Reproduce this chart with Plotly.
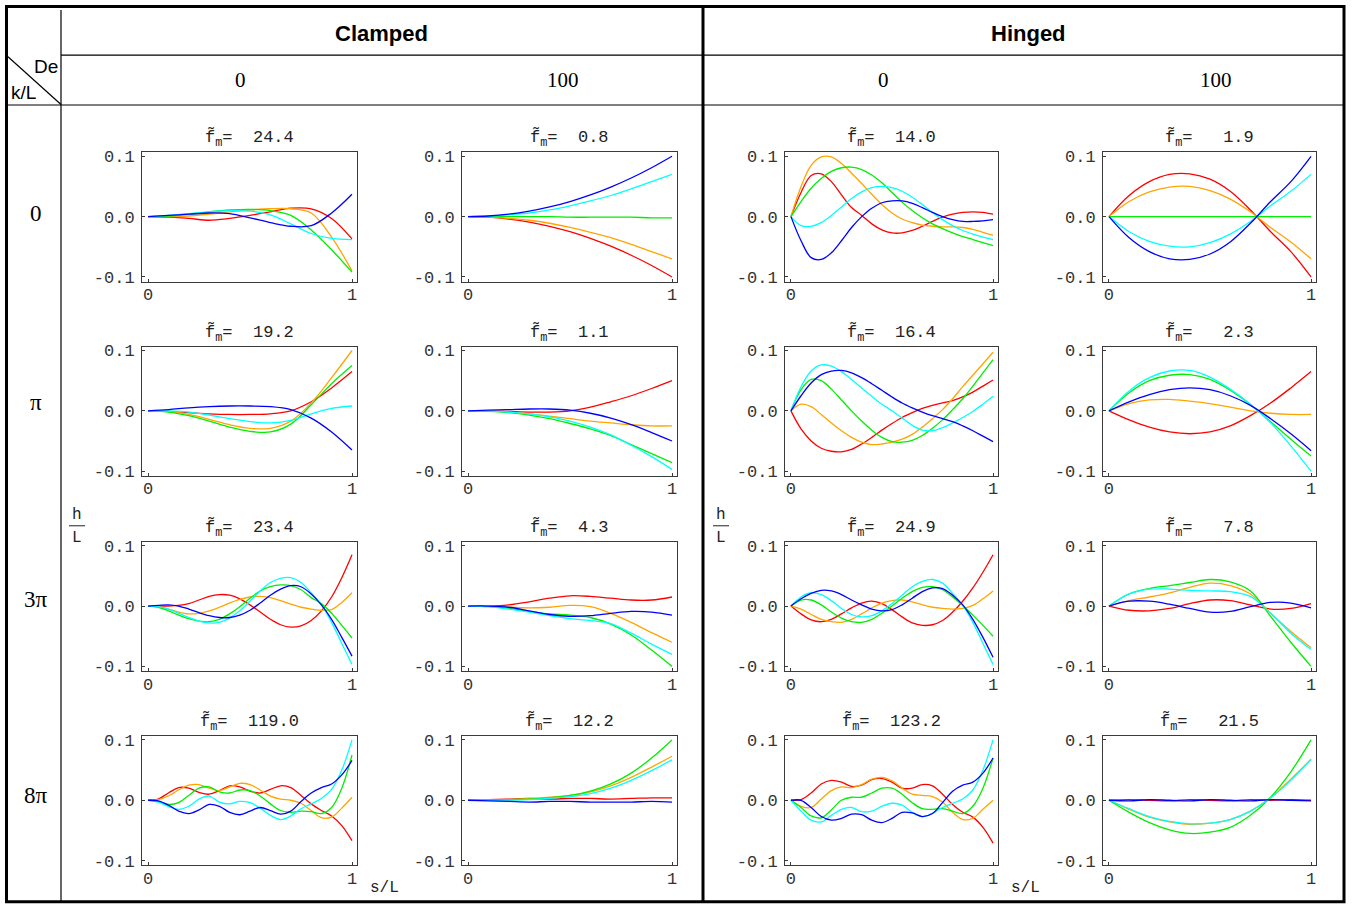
import plotly.graph_objects as go

W, H = 1359, 909

# ---------------- sample positions (s/L) ----------------
s11 = [0.0, 0.1, 0.2, 0.3, 0.4, 0.5, 0.6, 0.7, 0.8, 0.9, 1.0]
s21 = [0.0, 0.05, 0.1, 0.15, 0.2, 0.25, 0.3, 0.35, 0.4, 0.45, 0.5,
       0.55, 0.6, 0.65, 0.7, 0.75, 0.8, 0.85, 0.9, 0.95, 1.0]

# ---------------- labels ----------------
group_headers = ["Clamped", "Hinged"]
de_headers = ["0", "100", "0", "100"]
kl_labels = ["0", "π", "3π", "8π"]
fm_clamped_de0 = ["24.4", "19.2", "23.4", "119.0"]
fm_clamped_de100 = ["0.8", "1.1", "4.3", "12.2"]
fm_hinged_de0 = ["14.0", "16.4", "24.9", "123.2"]
fm_hinged_de100 = ["1.9", "2.3", "7.8", "21.5"]
y_tick_vals = [-0.1, 0.0, 0.1]
y_tick_text = ["-0.1", "0.0", "0.1"]
x_tick_vals = [0, 1]
x_tick_text = ["0", "1"]

# ---------------- row 1 (k/L = 0) ----------------
r1c1_red = [0, -0.001, -0.003, -0.006, -0.003, 0.002, 0.008, 0.014, 0.013, -0.003, -0.037]
r1c1_orange = [0, 0.0, 0.001, 0.004, 0.008, 0.011, 0.013, 0.013, 0.006, -0.034, -0.09]
r1c1_green = [0, 0.001, 0.004, 0.008, 0.011, 0.012, 0.01, 0.002, -0.022, -0.055, -0.092]
r1c1_cyan = [0, 0.002, 0.005, 0.008, 0.01, 0.009, 0.003, -0.012, -0.028, -0.036, -0.038]
r1c1_blue = [0, 0.002, 0.004, 0.006, 0.005, -0.002, -0.01, -0.016, -0.015, 0.006, 0.037]

r1c2_red = [0, -0.001, -0.004, -0.009, -0.016, -0.025, -0.036, -0.049, -0.064, -0.081, -0.1]
r1c2_orange = [0, -0.001, -0.003, -0.006, -0.011, -0.018, -0.026, -0.035, -0.046, -0.058, -0.07]
r1c2_green = [0, 0, 0, 0, 0, -0.001, -0.001, -0.001, -0.001, -0.002, -0.002]
r1c2_cyan = [0, 0.001, 0.003, 0.006, 0.011, 0.018, 0.026, 0.035, 0.046, 0.058, 0.07]
r1c2_blue = [0, 0.001, 0.004, 0.009, 0.016, 0.025, 0.036, 0.049, 0.064, 0.081, 0.1]

r1c3_red = [0, 0.04, 0.068, 0.071, 0.058, 0.036, 0.015, 0.002, -0.012, -0.022, -0.027,
            -0.027, -0.023, -0.016, -0.008, -0.001, 0.004, 0.007, 0.008, 0.007, 0.004]
r1c3_orange = [0, 0.05, 0.085, 0.099, 0.099, 0.088, 0.072, 0.055, 0.037, 0.02, 0.006,
               -0.004, -0.01, -0.014, -0.016, -0.017, -0.017, -0.018, -0.021, -0.026, -0.031]
r1c3_green = [0, 0.025, 0.047, 0.063, 0.075, 0.081, 0.082, 0.078, 0.069, 0.056, 0.04,
              0.024, 0.01, -0.002, -0.012, -0.02, -0.027, -0.033, -0.038, -0.043, -0.048]
r1c3_cyan = [0, -0.015, -0.016, -0.01, 0.002, 0.016, 0.03, 0.041, 0.048, 0.05, 0.048,
             0.042, 0.032, 0.02, 0.007, -0.005, -0.015, -0.023, -0.029, -0.034, -0.038]
r1c3_blue = [0, -0.04, -0.068, -0.071, -0.06, -0.04, -0.018, 0.0, 0.014, 0.023, 0.026,
             0.026, 0.022, 0.015, 0.007, 0.0, -0.005, -0.008, -0.008, -0.007, -0.005]

r1c4_red = [0, 0.035, 0.058, 0.07, 0.071, 0.062, 0.042, 0.011, -0.025, -0.058, -0.1]
r1c4_orange = [0, 0.025, 0.041, 0.049, 0.05, 0.043, 0.029, 0.008, -0.018, -0.042, -0.07]
r1c4_green = [0, 0, 0, 0, 0, 0, 0, 0, 0, 0, 0]
r1c4_cyan = [0, -0.025, -0.041, -0.049, -0.05, -0.043, -0.029, -0.008, 0.018, 0.042, 0.07]
r1c4_blue = [0, -0.035, -0.058, -0.07, -0.071, -0.062, -0.042, -0.011, 0.025, 0.058, 0.1]

# ---------------- row 2 (k/L = pi) ----------------
r2c1_red = [0, -0.001, -0.003, -0.005, -0.006, -0.006, -0.005, 0.0, 0.015, 0.038, 0.065]
r2c1_orange = [0, -0.001, -0.006, -0.014, -0.023, -0.029, -0.029, -0.017, 0.013, 0.055, 0.1]
r2c1_green = [0, -0.002, -0.008, -0.017, -0.027, -0.034, -0.035, -0.022, 0.01, 0.045, 0.075]
r2c1_cyan = [0, 0.0, -0.002, -0.007, -0.013, -0.018, -0.02, -0.016, -0.005, 0.004, 0.008]
r2c1_blue = [0, 0.002, 0.005, 0.007, 0.008, 0.008, 0.007, 0.002, -0.012, -0.035, -0.065]

r2c2_red = [0, 0, -0.001, -0.002, -0.002, 0.0, 0.006, 0.015, 0.025, 0.037, 0.05]
r2c2_orange = [0, 0, -0.002, -0.005, -0.009, -0.013, -0.017, -0.02, -0.023, -0.025, -0.025]
r2c2_green = [0, -0.001, -0.003, -0.007, -0.013, -0.021, -0.03, -0.041, -0.056, -0.071, -0.086]
r2c2_cyan = [0, 0, -0.002, -0.005, -0.01, -0.017, -0.027, -0.04, -0.057, -0.076, -0.097]
r2c2_blue = [0, 0.001, 0.002, 0.003, 0.003, 0.001, -0.004, -0.012, -0.023, -0.036, -0.05]

r2c3_red = [0, -0.03, -0.05, -0.062, -0.067, -0.068, -0.064, -0.055, -0.044, -0.032, -0.021,
            -0.011, -0.003, 0.004, 0.009, 0.013, 0.017, 0.023, 0.031, 0.041, 0.051]
r2c3_orange = [0, 0.011, 0.007, -0.006, -0.02, -0.033, -0.044, -0.052, -0.056, -0.055, -0.052,
               -0.047, -0.039, -0.027, -0.013, 0.002, 0.02, 0.04, 0.059, 0.078, 0.097]
r2c3_green = [0, 0.035, 0.052, 0.05, 0.036, 0.018, 0.0, -0.017, -0.032, -0.044, -0.051,
              -0.052, -0.049, -0.041, -0.029, -0.015, 0.002, 0.02, 0.041, 0.063, 0.085]
r2c3_cyan = [0, 0.04, 0.066, 0.076, 0.074, 0.065, 0.052, 0.038, 0.024, 0.011, 0.0,
             -0.012, -0.024, -0.032, -0.033, -0.028, -0.02, -0.011, -0.001, 0.011, 0.024]
r2c3_blue = [0, 0.025, 0.046, 0.06, 0.066, 0.067, 0.063, 0.055, 0.045, 0.034, 0.023,
             0.013, 0.005, -0.002, -0.008, -0.013, -0.018, -0.025, -0.033, -0.042, -0.051]

r2c4_red = [0, -0.015, -0.027, -0.035, -0.038, -0.035, -0.025, -0.008, 0.013, 0.038, 0.065]
r2c4_orange = [0, 0.012, 0.018, 0.019, 0.016, 0.012, 0.006, 0.0, -0.004, -0.006, -0.006]
r2c4_green = [0, 0.03, 0.05, 0.059, 0.06, 0.052, 0.034, 0.01, -0.018, -0.047, -0.075]
r2c4_cyan = [0, 0.033, 0.055, 0.066, 0.067, 0.056, 0.036, 0.011, -0.02, -0.058, -0.1]
r2c4_blue = [0, 0.015, 0.027, 0.035, 0.038, 0.035, 0.025, 0.009, -0.013, -0.038, -0.066]

# ---------------- row 3 (k/L = 3pi) ----------------
r3c1_red = [0, 0, 0, 0.001, 0.004, 0.01, 0.016, 0.019, 0.018, 0.012, 0.002,
            -0.01, -0.022, -0.031, -0.035, -0.033, -0.024, -0.008, 0.015, 0.047, 0.085]
r3c1_orange = [0, -0.001, -0.005, -0.01, -0.013, -0.012, -0.008, -0.002, 0.005, 0.011, 0.015,
               0.016, 0.014, 0.009, 0.003, -0.002, -0.005, -0.007, -0.006, 0.006, 0.022]
r3c1_green = [0, -0.002, -0.008, -0.015, -0.021, -0.025, -0.026, -0.022, -0.013, -0.001, 0.013,
              0.025, 0.032, 0.035, 0.034, 0.027, 0.014, 0.004, -0.012, -0.032, -0.053]
r3c1_cyan = [0, -0.001, -0.005, -0.012, -0.019, -0.025, -0.028, -0.027, -0.02, -0.008, 0.008,
             0.025, 0.039, 0.046, 0.047, 0.039, 0.022, 0.002, -0.027, -0.062, -0.097]
r3c1_blue = [0, 0.001, 0.002, 0.0, -0.005, -0.011, -0.016, -0.019, -0.019, -0.015, -0.007,
             0.005, 0.018, 0.028, 0.034, 0.032, 0.02, 0.002, -0.022, -0.052, -0.083]

r3c2_red = [0, 0.0, 0.002, 0.007, 0.013, 0.017, 0.016, 0.013, 0.01, 0.01, 0.015]
r3c2_orange = [0, 0, -0.002, -0.003, -0.002, 0.001, -0.001, -0.012, -0.027, -0.044, -0.06]
r3c2_green = [0, -0.001, -0.004, -0.009, -0.013, -0.015, -0.019, -0.03, -0.048, -0.073, -0.1]
r3c2_cyan = [0, -0.001, -0.005, -0.01, -0.016, -0.021, -0.024, -0.029, -0.045, -0.063, -0.08]
r3c2_blue = [0, 0, -0.002, -0.008, -0.014, -0.017, -0.016, -0.012, -0.009, -0.01, -0.015]

r3c3_red = [0, -0.013, -0.023, -0.026, -0.022, -0.013, -0.003, 0.005, 0.008, 0.004, -0.006,
            -0.018, -0.028, -0.032, -0.031, -0.024, -0.01, 0.008, 0.03, 0.056, 0.085]
r3c3_orange = [0, -0.005, -0.014, -0.022, -0.026, -0.027, -0.022, -0.013, -0.003, 0.005, 0.009,
               0.01, 0.007, 0.002, -0.002, -0.004, -0.005, -0.004, 0.001, 0.012, 0.025]
r3c3_green = [0, 0.01, 0.01, 0.002, -0.01, -0.02, -0.026, -0.027, -0.022, -0.012, 0.0,
              0.013, 0.024, 0.031, 0.032, 0.027, 0.015, 0.001, -0.015, -0.032, -0.05]
r3c3_cyan = [0, 0.015, 0.022, 0.019, 0.009, -0.004, -0.014, -0.018, -0.016, -0.008, 0.004,
             0.018, 0.032, 0.041, 0.044, 0.038, 0.021, 0.001, -0.027, -0.062, -0.097]
r3c3_blue = [0, 0.012, 0.021, 0.026, 0.025, 0.019, 0.01, 0.002, -0.005, -0.008, -0.006,
             0.002, 0.013, 0.024, 0.03, 0.029, 0.018, 0.002, -0.022, -0.052, -0.085]

r3c4_red = [0, -0.007, -0.008, -0.004, 0.004, 0.01, 0.009, 0.002, -0.005, -0.004, 0.004]
r3c4_orange = [0, 0.009, 0.015, 0.022, 0.031, 0.038, 0.034, 0.02, -0.012, -0.042, -0.069]
r3c4_green = [0, 0.02, 0.029, 0.034, 0.039, 0.044, 0.04, 0.025, -0.017, -0.06, -0.1]
r3c4_cyan = [0, 0.02, 0.028, 0.028, 0.026, 0.025, 0.024, 0.016, -0.012, -0.045, -0.072]
r3c4_blue = [0, 0.008, 0.008, 0.003, -0.004, -0.01, -0.009, -0.001, 0.006, 0.005, -0.003]

# ---------------- row 4 (k/L = 8pi) ----------------
r4c1_red = [0, 0.002, 0.012, 0.021, 0.02, 0.013, 0.01, 0.016, 0.024, 0.022, 0.015,
            0.012, 0.018, 0.024, 0.021, 0.008, -0.006, -0.017, -0.026, -0.042, -0.067]
r4c1_orange = [0, 0.001, 0.007, 0.017, 0.025, 0.026, 0.02, 0.016, 0.022, 0.028, 0.026,
               0.017, 0.007, 0.002, 0.0, -0.005, -0.017, -0.029, -0.028, -0.013, 0.005]
r4c1_green = [0, -0.002, -0.007, -0.004, 0.008, 0.02, 0.022, 0.014, 0.012, 0.017, 0.016,
              0.007, -0.006, -0.017, -0.02, -0.018, -0.019, -0.022, -0.012, 0.02, 0.075]
r4c1_cyan = [0, -0.003, -0.01, -0.015, -0.01, 0.002, 0.007, -0.003, -0.006, -0.002, -0.004,
             -0.013, -0.025, -0.032, -0.026, -0.014, -0.006, 0.003, 0.018, 0.05, 0.1]
r4c1_blue = [0, -0.001, -0.008, -0.018, -0.022, -0.016, -0.007, -0.01, -0.02, -0.024, -0.018,
             -0.012, -0.017, -0.023, -0.018, -0.002, 0.012, 0.021, 0.027, 0.042, 0.066]

r4c2_red = [0, 0.001, 0.002, 0.003, 0.002, 0.003, 0.003, 0.002, 0.003, 0.004, 0.004]
r4c2_orange = [0, 0, 0.001, 0.003, 0.005, 0.008, 0.014, 0.024, 0.038, 0.055, 0.073]
r4c2_green = [0, 0, 0.001, 0.002, 0.004, 0.008, 0.015, 0.027, 0.045, 0.07, 0.1]
r4c2_cyan = [0, 0, 0, 0.001, 0.003, 0.006, 0.011, 0.02, 0.033, 0.049, 0.067]
r4c2_blue = [0, -0.001, -0.002, -0.003, -0.002, -0.002, -0.003, -0.003, -0.003, -0.002, -0.003]

r4c3_red = [0, 0.001, 0.012, 0.027, 0.033, 0.03, 0.023, 0.025, 0.034, 0.036, 0.03,
            0.02, 0.02, 0.026, 0.024, 0.01, -0.007, -0.02, -0.028, -0.045, -0.071]
r4c3_orange = [0, -0.01, -0.012, 0.002, 0.016, 0.022, 0.021, 0.026, 0.035, 0.038, 0.032,
               0.02, 0.01, 0.008, 0.006, -0.003, -0.02, -0.032, -0.03, -0.015, 0.0]
r4c3_green = [0, -0.012, -0.026, -0.029, -0.016, 0.0, 0.005, 0.005, 0.012, 0.02, 0.02,
              0.01, -0.004, -0.014, -0.015, -0.014, -0.018, -0.022, -0.01, 0.02, 0.07]
r4c3_cyan = [0, -0.018, -0.033, -0.036, -0.025, -0.015, -0.012, -0.019, -0.018, -0.01, -0.005,
             -0.008, -0.02, -0.027, -0.022, -0.012, -0.005, 0.002, 0.017, 0.05, 0.1]
r4c3_blue = [0, 0.0, -0.012, -0.027, -0.033, -0.03, -0.023, -0.024, -0.033, -0.037, -0.03,
             -0.02, -0.021, -0.027, -0.022, -0.004, 0.015, 0.025, 0.03, 0.045, 0.07]

r4c4_red = [0, 0.001, 0, -0.001, 0.001, 0, -0.001, 0.001, 0, 0.001, 0]
r4c4_orange = [0, -0.015, -0.028, -0.036, -0.04, -0.038, -0.032, -0.018, 0.004, 0.035, 0.068]
r4c4_green = [0, -0.02, -0.037, -0.049, -0.055, -0.053, -0.045, -0.025, 0.005, 0.047, 0.1]
r4c4_cyan = [0, -0.014, -0.027, -0.035, -0.039, -0.038, -0.032, -0.018, 0.004, 0.033, 0.068]
r4c4_blue = [0, -0.001, 0.001, 0, -0.001, 0.001, 0, -0.001, 0.001, 0, -0.001]

# ---------------- panel table (built from the arrays above) ----------------
panels = [
    [(s11, [r1c1_red, r1c1_orange, r1c1_green, r1c1_cyan, r1c1_blue]),
     (s11, [r1c2_red, r1c2_orange, r1c2_green, r1c2_cyan, r1c2_blue]),
     (s21, [r1c3_red, r1c3_orange, r1c3_green, r1c3_cyan, r1c3_blue]),
     (s11, [r1c4_red, r1c4_orange, r1c4_green, r1c4_cyan, r1c4_blue])],
    [(s11, [r2c1_red, r2c1_orange, r2c1_green, r2c1_cyan, r2c1_blue]),
     (s11, [r2c2_red, r2c2_orange, r2c2_green, r2c2_cyan, r2c2_blue]),
     (s21, [r2c3_red, r2c3_orange, r2c3_green, r2c3_cyan, r2c3_blue]),
     (s11, [r2c4_red, r2c4_orange, r2c4_green, r2c4_cyan, r2c4_blue])],
    [(s21, [r3c1_red, r3c1_orange, r3c1_green, r3c1_cyan, r3c1_blue]),
     (s11, [r3c2_red, r3c2_orange, r3c2_green, r3c2_cyan, r3c2_blue]),
     (s21, [r3c3_red, r3c3_orange, r3c3_green, r3c3_cyan, r3c3_blue]),
     (s11, [r3c4_red, r3c4_orange, r3c4_green, r3c4_cyan, r3c4_blue])],
    [(s21, [r4c1_red, r4c1_orange, r4c1_green, r4c1_cyan, r4c1_blue]),
     (s11, [r4c2_red, r4c2_orange, r4c2_green, r4c2_cyan, r4c2_blue]),
     (s21, [r4c3_red, r4c3_orange, r4c3_green, r4c3_cyan, r4c3_blue]),
     (s11, [r4c4_red, r4c4_orange, r4c4_green, r4c4_cyan, r4c4_blue])],
]
fm_columns = [fm_clamped_de0, fm_clamped_de100, fm_hinged_de0, fm_hinged_de100]
fm_gap = [2, 2, 2, 3]   # spaces between "=" and the value in each column

curve_colors = ["#FF0000", "#FFA500", "#00EE00", "#00FFFF", "#0000FF"]

# ---------------- geometry (page pixels) ----------------
col_px = [(142, 357), (462, 677), (785, 998), (1103, 1316)]
row_px = [(152, 282), (347, 477), (543, 673), (738, 868)]
XR = [-0.0294, 1.0245]
YR = [-0.108, 0.1066]

# empirical correction of the page -> screenshot mapping (vertical only)
OX = 0
OY, SY = 3.1, 0.993


def fx(px):
    return (px - OX) / W


def fy(py):
    return 1 - ((py - OY) / SY) / H


MONO = "Liberation Mono, Courier New, monospace"
SERIF = "Liberation Serif, Times New Roman, serif"
SANS = "Liberation Sans, Arial, sans-serif"
NB = "\u00a0"

fig = go.Figure()
layout_axes = {}
annotations = []
n = 0
for r in range(4):
    for c in range(4):
        n += 1
        xs, ys_list = panels[r][c]
        xa = "x" if n == 1 else f"x{n}"
        ya = "y" if n == 1 else f"y{n}"
        for col, ys in zip(curve_colors, ys_list):
            fig.add_trace(go.Scatter(
                x=xs, y=ys, mode="lines", xaxis=xa, yaxis=ya,
                line=dict(color=col, width=1.3, shape="spline", smoothing=1.0),
                showlegend=False, hoverinfo="skip"))
        x0, x1 = col_px[c]
        y0, y1 = row_px[r]
        axcommon = dict(showline=True, mirror=True, linecolor="#3a3a3a", linewidth=1,
                        showgrid=False, zeroline=False, ticks="inside", ticklen=3,
                        tickcolor="#3a3a3a", tickwidth=1,
                        tickfont=dict(family=MONO, size=17, color="#333333"))
        layout_axes["xaxis" if n == 1 else f"xaxis{n}"] = dict(
            domain=[fx(x0), fx(x1)], anchor=ya, range=XR,
            tickmode="array", tickvals=x_tick_vals, ticktext=x_tick_text,
            ticklabelstandoff=-3, **axcommon)
        layout_axes["yaxis" if n == 1 else f"yaxis{n}"] = dict(
            domain=[fy(y1), fy(y0)], anchor=xa, range=YR,
            tickmode="array", tickvals=y_tick_vals, ticktext=y_tick_text,
            ticklabelstandoff=3, **axcommon)
        val = NB * fm_gap[c] + fm_columns[c][r]
        annotations.append(dict(
            text="f\u0303<sub>m</sub>=" + val,
            x=fx((x0 + x1) / 2), y=fy(y0 - 14), xref="paper", yref="paper",
            showarrow=False, xanchor="center", yanchor="middle",
            font=dict(family=MONO, size=17, color="#222222")))

# headers
for txt, xc in zip(group_headers, [382, 1028]):
    annotations.append(dict(text=f"<b>{txt}</b>", x=fx(xc), y=fy(33), xref="paper", yref="paper",
                            showarrow=False, xanchor="center", yanchor="middle",
                            font=dict(family=SANS, size=22, color="black")))
for txt, xc in zip(de_headers, [240, 563, 883, 1216]):
    annotations.append(dict(text=txt, x=fx(xc), y=fy(79), xref="paper", yref="paper",
                            showarrow=False, xanchor="center", yanchor="middle",
                            font=dict(family=SERIF, size=21, color="black")))
for txt, yc in zip(kl_labels, [213, 403, 601, 798]):
    annotations.append(dict(text=txt, x=fx(36), y=fy(yc), xref="paper", yref="paper",
                            showarrow=False, xanchor="center", yanchor="middle",
                            font=dict(family=SERIF, size=23, color="black")))
annotations.append(dict(text="De", x=fx(60), y=fy(66), xref="paper", yref="paper",
                        showarrow=False, xanchor="right", yanchor="middle",
                        font=dict(family=SANS, size=19, color="black")))
annotations.append(dict(text="k/L", x=fx(9), y=fy(92), xref="paper", yref="paper",
                        showarrow=False, xanchor="left", yanchor="middle",
                        font=dict(family=SANS, size=19, color="black")))

# h/L and s/L axis labels
shapes = []
for xc in [77, 721]:
    annotations.append(dict(text="h", x=fx(xc), y=fy(516), xref="paper", yref="paper",
                            showarrow=False, xanchor="center", yanchor="middle",
                            font=dict(family=MONO, size=16, color="#222222")))
    annotations.append(dict(text="L", x=fx(xc), y=fy(539), xref="paper", yref="paper",
                            showarrow=False, xanchor="center", yanchor="middle",
                            font=dict(family=MONO, size=16, color="#222222")))
    shapes.append(dict(type="line", xref="paper", yref="paper",
                       x0=fx(xc - 8), x1=fx(xc + 8), y0=fy(527), y1=fy(527),
                       line=dict(color="#222222", width=1)))
for xc in [384, 1025]:
    annotations.append(dict(text="s/L", x=fx(xc), y=fy(891), xref="paper", yref="paper",
                            showarrow=False, xanchor="center", yanchor="middle",
                            font=dict(family=MONO, size=16, color="#222222")))

# table lines
thick = dict(color="black", width=3)
thin = dict(color="black", width=1.2)
shapes += [
    dict(type="rect", xref="paper", yref="paper", x0=fx(6.5), x1=fx(1344), y0=fy(5.5), y1=fy(904.5),
         line=thick),
    dict(type="line", xref="paper", yref="paper", x0=fx(703), x1=fx(703), y0=fy(5.5), y1=fy(904.5),
         line=thick),
    dict(type="line", xref="paper", yref="paper", x0=fx(61), x1=fx(61), y0=fy(9), y1=fy(904.5),
         line=thin),
    dict(type="line", xref="paper", yref="paper", x0=fx(61), x1=fx(1344), y0=fy(54.5), y1=fy(54.5),
         line=thin),
    dict(type="line", xref="paper", yref="paper", x0=fx(6.5), x1=fx(1344), y0=fy(104.5), y1=fy(104.5),
         line=thin),
    dict(type="line", xref="paper", yref="paper", x0=fx(8), x1=fx(61), y0=fy(56), y1=fy(104),
         line=thin),
]

fig.update_layout(
    width=W, height=H, margin=dict(l=0, r=0, t=0, b=0),
    paper_bgcolor="white", plot_bgcolor="white",
    showlegend=False, annotations=annotations, shapes=shapes,
    **layout_axes)

# remove the default page margin so the figure fills the window exactly
fig.write_html("out.html", config={"displayModeBar": False},
               post_script="document.body.style.margin='0';document.body.style.overflow='hidden';")
